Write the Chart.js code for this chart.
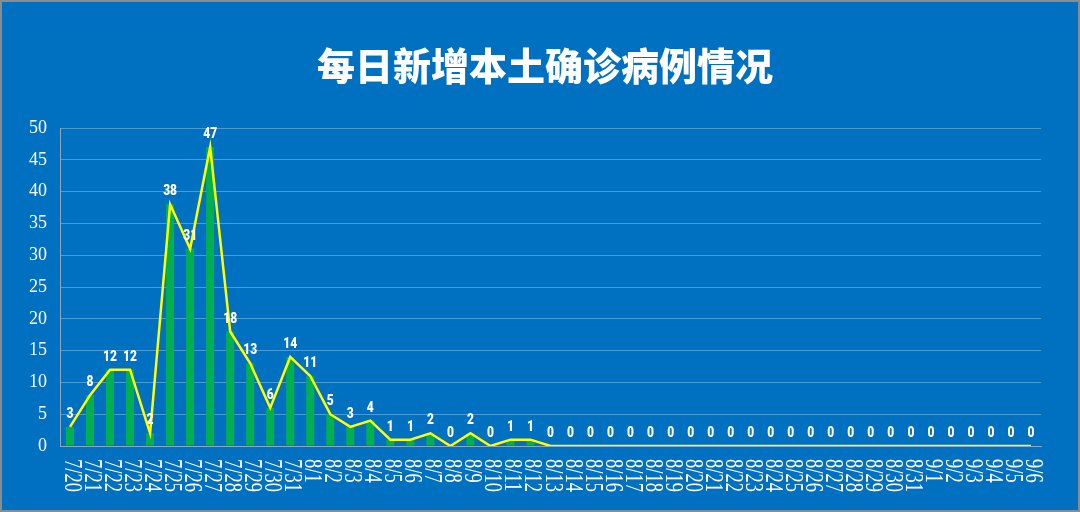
<!DOCTYPE html>
<html>
<head>
<meta charset="utf-8">
<script src="https://cdn.jsdelivr.net/npm/chart.js@4.4.0/dist/chart.umd.min.js"></script>
<style>
  html, body { margin: 0; padding: 0; background: #0070c0; }
  #wrap { width: 1080px; height: 512px; position: relative; }
</style>
</head>
<body>
<div id="wrap"><canvas id="chart"></canvas></div>
<script>
const titleText = '每日新增本土确诊病例情况';

const dates = [
    '7/20', '7/21', '7/22', '7/23', '7/24', '7/25', '7/26', '7/27', '7/28', '7/29', '7/30', '7/31',
    '8/1', '8/2', '8/3', '8/4', '8/5', '8/6', '8/7', '8/8', '8/9', '8/10', '8/11', '8/12',
    '8/13', '8/14', '8/15', '8/16', '8/17', '8/18', '8/19', '8/20', '8/21', '8/22', '8/23', '8/24',
    '8/25', '8/26', '8/27', '8/28', '8/29', '8/30', '8/31',
    '9/1', '9/2', '9/3', '9/4', '9/5', '9/6'
];

const newCases = [
    3, 8, 12, 12, 2, 38, 31, 47, 18, 13, 6, 14,
    11, 5, 3, 4, 1, 1, 2, 0, 2, 0, 1, 1,
    0, 0, 0, 0, 0, 0, 0, 0, 0, 0, 0, 0,
    0, 0, 0, 0, 0, 0, 0,
    0, 0, 0, 0, 0, 0
];

const yMin = 0;
const yMax = 50;
const yStep = 5;

// background, title, frame
const backdrop = {
    id: 'backdrop',
    beforeDraw(chart) {
        const ctx = chart.ctx;
        ctx.save();
        ctx.fillStyle = '#0070c0';
        ctx.fillRect(0, 0, chart.width, chart.height);
        ctx.fillStyle = '#ffffff';
        ctx.font = '900 38px "Noto Sans CJK SC", sans-serif';
        ctx.textAlign = 'center';
        ctx.textBaseline = 'middle';
        ctx.fillText(titleText, 545, 66);
        ctx.restore();
    },
    afterDraw(chart) {
        const ctx = chart.ctx;
        ctx.save();
        ctx.strokeStyle = '#8c8c8c';
        ctx.lineWidth = 2;
        ctx.strokeRect(1, 1, chart.width - 2, chart.height - 2);
        ctx.restore();
    }
};

// value labels above the line points (narrow bold look, squeezed by hand)
const valueLabels = {
    id: 'valueLabels',
    afterDatasetsDraw(chart) {
        const ctx = chart.ctx;
        const meta = chart.getDatasetMeta(0);
        ctx.save();
        ctx.fillStyle = '#ffffff';
        ctx.font = '900 15px Roboto, "Liberation Sans", sans-serif';
        ctx.textAlign = 'center';
        ctx.textBaseline = 'alphabetic';
        meta.data.forEach((pt, i) => {
            ctx.save();
            ctx.translate(pt.x, pt.y - 9);
            ctx.scale(0.8, 1);
            ctx.fillText(String(newCases[i]), 0, 0);
            ctx.restore();
        });
        ctx.restore();
    }
};

// x labels, turned clockwise so they read top to bottom
const dateLabels = {
    id: 'dateLabels',
    afterDraw(chart) {
        const ctx = chart.ctx;
        const xs = chart.scales.x;
        const top = chart.chartArea.bottom + 13;
        ctx.save();
        ctx.fillStyle = '#ffffff';
        ctx.font = '25px "Liberation Serif", serif';
        ctx.textAlign = 'left';
        ctx.textBaseline = 'alphabetic';
        dates.forEach((d, i) => {
            const px = xs.getPixelForTick(i);
            ctx.save();
            ctx.translate(px - 5, top);
            ctx.rotate(Math.PI / 2);
            ctx.scale(0.74, 1);
            ctx.fillText(d, 0, 0);
            ctx.restore();
        });
        ctx.restore();
    }
};

new Chart(document.getElementById('chart').getContext('2d'), {
    type: 'bar',
    data: {
        labels: dates,
        datasets: [
            {
                type: 'line',
                label: '新增',
                data: newCases,
                borderColor: '#ffff00',
                borderWidth: 2.5,
                pointRadius: 0,
                pointHoverRadius: 0,
                tension: 0,
                fill: false,
                order: 0
            },
            {
                type: 'bar',
                label: '新增',
                data: newCases,
                backgroundColor: '#00b050',
                borderWidth: 0,
                barPercentage: 0.4,
                categoryPercentage: 1,
                order: 1
            }
        ]
    },
    options: {
        responsive: true,
        maintainAspectRatio: false,
        animation: false,
        layout: {
            padding: { left: 0, right: 39, top: 128, bottom: 66 }
        },
        plugins: {
            legend: { display: false },
            tooltip: { enabled: false },
            title: { display: false }
        },
        scales: {
            x: {
                offset: true,
                ticks: { display: false },
                grid: { display: false, drawTicks: false },
                border: { display: true, color: '#8ea6c0', width: 1 }
            },
            y: {
                min: yMin,
                max: yMax,
                afterFit(scale) { scale.width = 60; },
                ticks: {
                    stepSize: yStep,
                    color: '#ffffff',
                    padding: 13,
                    font: { family: '"Liberation Serif", serif', size: 18 }
                },
                grid: {
                    color: 'rgba(255,255,255,0.3)',
                    drawTicks: false,
                    lineWidth: 1
                },
                border: { display: true, color: '#8ea6c0', width: 1 }
            }
        }
    },
    plugins: [backdrop, valueLabels, dateLabels]
});
</script>
</body>
</html>
